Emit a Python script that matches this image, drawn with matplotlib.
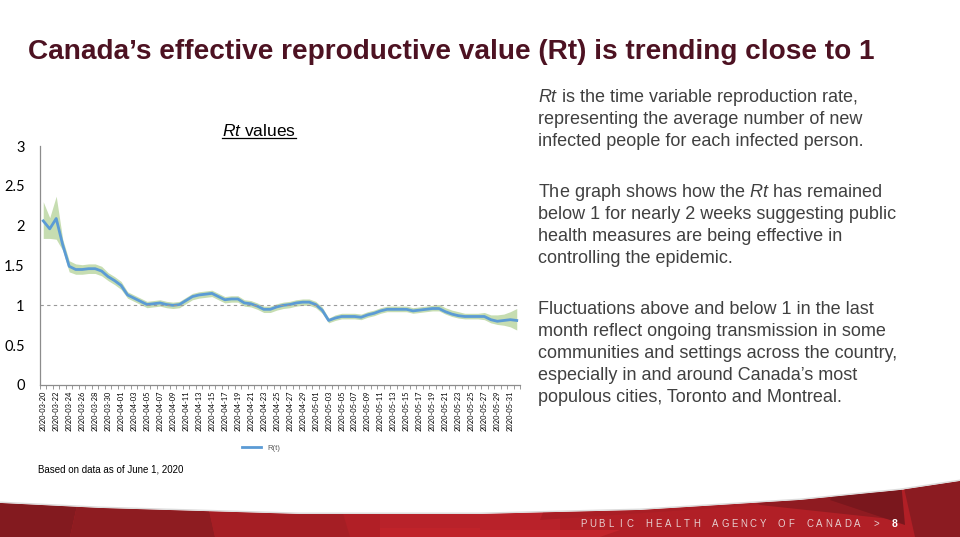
import numpy as np
import pandas as pd
import matplotlib
matplotlib.use('Agg')
import matplotlib.pyplot as plt
from matplotlib.patches import Polygon

plt.rcParams['font.family'] = ['Liberation Sans', 'DejaVu Sans']
plt.rcParams['mathtext.fontset'] = 'custom'
plt.rcParams['mathtext.rm'] = 'Liberation Sans'
plt.rcParams['mathtext.it'] = 'Liberation Sans:italic'

# daily Rt estimates, 2020-03-20 .. 2020-06-01
dates = pd.date_range('2020-03-20', '2020-06-01', freq='D')
rt = [2.06, 1.96, 2.09, 1.76, 1.49, 1.45, 1.45, 1.46, 1.46, 1.43,
      1.36, 1.31, 1.25, 1.13, 1.09, 1.05, 1.01, 1.02, 1.03, 1.01,
      1.00, 1.01, 1.06, 1.11, 1.13, 1.14, 1.15, 1.11, 1.07, 1.08,
      1.08, 1.03, 1.02, 0.99, 0.95, 0.95, 0.98, 1.00, 1.01, 1.03,
      1.04, 1.04, 1.01, 0.94, 0.81, 0.84, 0.86, 0.86, 0.86, 0.85,
      0.88, 0.90, 0.93, 0.95, 0.95, 0.95, 0.95, 0.93, 0.94, 0.95,
      0.96, 0.96, 0.92, 0.89, 0.87, 0.86, 0.86, 0.86, 0.86, 0.82,
      0.80, 0.81, 0.82, 0.81]
rt_upper = [2.30, 2.10, 2.37, 1.83, 1.56, 1.52, 1.51, 1.52, 1.52, 1.49,
            1.41, 1.36, 1.30, 1.17, 1.13, 1.09, 1.05, 1.06, 1.07, 1.05,
            1.04, 1.05, 1.10, 1.15, 1.17, 1.18, 1.19, 1.15, 1.11, 1.12,
            1.12, 1.07, 1.06, 1.03, 0.99, 0.99, 1.02, 1.04, 1.05, 1.07,
            1.08, 1.08, 1.05, 0.98, 0.84, 0.88, 0.90, 0.90, 0.90, 0.89,
            0.92, 0.94, 0.97, 0.99, 0.99, 0.99, 0.99, 0.97, 0.98, 0.99,
            1.00, 1.01, 0.97, 0.94, 0.92, 0.90, 0.90, 0.90, 0.91, 0.88,
            0.88, 0.89, 0.92, 0.96]
rt_lower = [1.84, 1.84, 1.83, 1.69, 1.42, 1.39, 1.39, 1.40, 1.40, 1.37,
            1.31, 1.26, 1.20, 1.09, 1.05, 1.01, 0.97, 0.98, 0.99, 0.97,
            0.96, 0.97, 1.02, 1.07, 1.09, 1.10, 1.11, 1.07, 1.03, 1.04,
            1.04, 0.99, 0.98, 0.95, 0.91, 0.91, 0.94, 0.96, 0.97, 0.99,
            1.00, 1.00, 0.97, 0.90, 0.78, 0.81, 0.83, 0.83, 0.83, 0.82,
            0.85, 0.87, 0.90, 0.92, 0.92, 0.92, 0.92, 0.90, 0.91, 0.92,
            0.93, 0.93, 0.89, 0.86, 0.84, 0.83, 0.83, 0.83, 0.82, 0.78,
            0.76, 0.75, 0.73, 0.69]
yticks = [0, 0.5, 1, 1.5, 2, 2.5, 3]

title = "Canada\u2019s effective reproductive value (Rt) is trending close to 1"
para1 = [r"$\mathit{Rt}$ is the time variable reproduction rate,",
         "representing the average number of new",
         "infected people for each infected person."]
para2 = [r"The graph shows how the $\mathit{Rt}$ has remained",
         "below 1 for nearly 2 weeks suggesting public",
         "health measures are being effective in",
         "controlling the epidemic."]
para3 = ["Fluctuations above and below 1 in the last",
         "month reflect ongoing transmission in some",
         "communities and settings across the country,",
         "especially in and around Canada\u2019s most",
         "populous cities, Toronto and Montreal."]
footer = "PUBLIC HEALTH AGENCY OF CANADA >"

fig = plt.figure(figsize=(9.6, 5.37), dpi=100)
W, H = 960, 537

# background layer in pixel coords for the red banner
bg = fig.add_axes([0, 0, 1, 1], zorder=0)
bg.set_xlim(0, W)
bg.set_ylim(H, 0)
bg.axis('off')
bx = np.linspace(0, W, 97)
btop = np.interp(bx, [0, 100, 300, 480, 640, 800, 900, 960],
                 [503, 508, 514, 514, 510, 500, 490, 481])
banner = Polygon(np.column_stack([np.r_[bx, W, 0], np.r_[btop, H, H]]),
                 closed=True, fc='#b11f26', ec='none')
bg.add_patch(banner)
bg.plot(bx, btop - 0.8, color='#dcdcdc', lw=1.0)
facets = [([0, 85, 70, 0], [470, 470, H, H], '#831a1f'),
          ([85, 200, 215, 70], [470, 470, H, H], '#8e1c21'),
          ([200, 330, 350, 215], [470, 470, H, H], '#a51e24'),
          ([380, 560, 560, 380], [470, 470, 530, 530], '#b9222a'),
          ([380, 480, 480, 380], [528, 528, H, H], '#c0232a'),
          ([560, 700, 760, 540], [470, 470, 505, 520], '#a91e25'),
          ([700, 860, 900, 760], [470, 470, 520, 505], '#8f1b21'),
          ([850, 900, 905, 830], [470, 470, 525, 500], '#7a171d'),
          ([900, 960, 960, 915], [470, 470, H, H], '#8b1b21'),
          ([480, 620, 600, 480], [530, 530, H, H], '#c3242b')]
for fx, fy, fc in facets:
    p = Polygon(np.column_stack([fx, fy]), closed=True, fc=fc, ec='none')
    bg.add_patch(p)
    p.set_clip_path(banner)
for i, ch in enumerate(footer):
    bg.text(583 + i * 9.45, 524, ch, color='#e6cfcf', fontsize=6.9,
            va='center', ha='center')
bg.text(895, 524, "8", color='white', fontsize=7.5, fontweight='bold',
        va='center', ha='center')

# slide title
fig.text(28 / W, 1 - 52 / H, title, fontsize=20.2, fontweight='bold',
         color='#4d1222', va='center', ha='left')

# right-hand commentary
y = 102
for block in (para1, para2, para3):
    for line in block:
        fig.text(538 / W, 1 - y / H, line, fontsize=13, color='#404040',
                 va='baseline', ha='left')
        y += 22
    y += 29

fig.text(38 / W, 1 - 469 / H, "Based on data as of June 1, 2020", fontsize=7,
         va='center')

# chart
ax = fig.add_axes([40 / W, 1 - 385 / H, 480 / W, 239 / H], zorder=2)
ax.patch.set_alpha(0)
x = np.arange(len(dates))
ax.fill_between(x, rt_lower, rt_upper, color='#c6ddb1', lw=0)
ax.plot(x, rt, color='#5b9bd5', lw=2, label='R(t)')
ax.axhline(1, color='#999999', ls=(0, (3, 3)), lw=0.8)
ax.set_xlim(-0.5, len(dates) - 0.5)
ax.set_ylim(0, 3)
ax.set_yticks(yticks)
ax.set_yticklabels([f'{v:g}' for v in yticks], family='Lato', fontsize=10.5)
ax.tick_params(axis='y', length=0, pad=11)
ax.set_xticks(x[::2])
ax.set_xticklabels(dates[::2].strftime('%Y-%m-%d'), rotation=90, fontsize=5.4,
                   family='Lato')
ax.set_xticks(np.arange(len(dates) + 1) - 0.5, minor=True)
ax.tick_params(axis='x', which='major', length=0, pad=4)
ax.tick_params(axis='x', which='minor', length=3, color='#888888', width=0.6)
for s in ('top', 'right'):
    ax.spines[s].set_visible(False)
for s in ('left', 'bottom'):
    ax.spines[s].set_color('#8c8c8c')
    ax.spines[s].set_linewidth(0.9)
ttl = fig.text(259 / W, 1 - 131 / H, r"$\mathit{Rt}$ values",
               ha='center', va='center', fontsize=12.5)
ax.legend(loc='upper center', bbox_to_anchor=(0.46, -0.22), frameon=False,
          fontsize=5.5, handlelength=2.5, labelcolor='#595959')

# underline the chart title
fig.canvas.draw()
bb = ttl.get_window_extent().transformed(fig.transFigure.inverted())
fig.add_artist(plt.Line2D([bb.x0, bb.x1], [bb.y0 + 0.002, bb.y0 + 0.002],
                          color='black', lw=0.9, transform=fig.transFigure))

plt.savefig('out.png', dpi=100)
